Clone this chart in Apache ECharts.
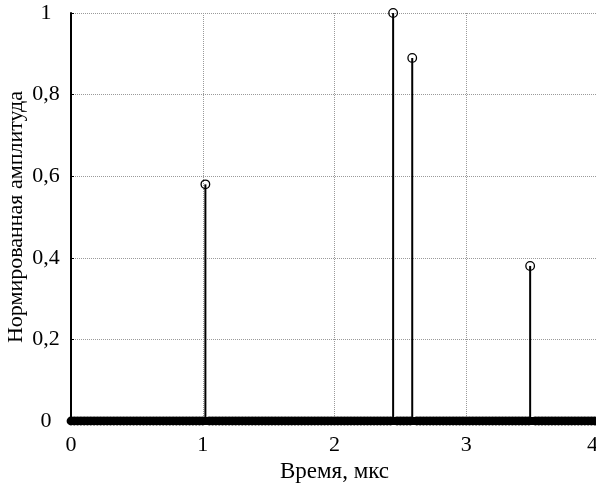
<!DOCTYPE html>
<html>
<head>
<meta charset="utf-8">
<script src="https://cdn.jsdelivr.net/npm/echarts@6/dist/echarts.min.js"></script>
<style>
  html, body { margin: 0; padding: 0; background: #fff; }
  #chart { width: 596px; height: 486px; }
</style>
</head>
<body>
<div id="chart"></div>
<script>
// Non-zero samples of the normalised amplitude (time in µs)
const peakTimes = [1.02, 2.445, 2.59, 3.485];
const peakValues = [0.58, 1.0, 0.89, 0.38];

// Sample instants where the amplitude is zero
const zeroTimes = [
  0, 0.025, 0.05, 0.075, 0.1, 0.125, 0.15, 0.175,
  0.2, 0.225, 0.25, 0.275, 0.3, 0.325, 0.35, 0.375,
  0.4, 0.425, 0.45, 0.475, 0.5, 0.525, 0.55, 0.575,
  0.6, 0.625, 0.65, 0.675, 0.7, 0.725, 0.75, 0.775,
  0.8, 0.825, 0.85, 0.875, 0.9, 0.925, 0.95, 0.975,
  1, 1.05, 1.075, 1.1, 1.125, 1.15, 1.175,
  1.2, 1.225, 1.25, 1.275, 1.3, 1.325, 1.35, 1.375,
  1.4, 1.425, 1.45, 1.475, 1.5, 1.525, 1.55, 1.575,
  1.6, 1.625, 1.65, 1.675, 1.7, 1.725, 1.75, 1.775,
  1.8, 1.825, 1.85, 1.875, 1.9, 1.925, 1.95, 1.975,
  2, 2.025, 2.05, 2.075, 2.1, 2.125, 2.15, 2.175,
  2.2, 2.225, 2.25, 2.275, 2.3, 2.325, 2.35, 2.375,
  2.4, 2.425, 2.475, 2.5, 2.525, 2.55, 2.575,
  2.625, 2.65, 2.675, 2.7, 2.725, 2.75, 2.775,
  2.8, 2.825, 2.85, 2.875, 2.9, 2.925, 2.95, 2.975,
  3, 3.025, 3.05, 3.075, 3.1, 3.125, 3.15, 3.175,
  3.2, 3.225, 3.25, 3.275, 3.3, 3.325, 3.35, 3.375,
  3.4, 3.425, 3.45, 3.475, 3.525, 3.55, 3.575,
  3.6, 3.625, 3.65, 3.675, 3.7, 3.725, 3.75, 3.775,
  3.8, 3.825, 3.85, 3.875, 3.9, 3.925, 3.95, 3.975,
  4
];

const xTicks = [0, 1, 2, 3, 4];
const yTickLabels = ['0', '0,2', '0,4', '0,6', '0,8', '1'];

const FONT = '"Liberation Serif", "DejaVu Serif", serif';

// Stem: vertical line from the baseline up to the sample, with a hollow circle on top
function makeStemRenderer(radius, ringWidth) {
  return function (params, api) {
    const x = api.value(0);
    const y = api.value(1);
    const top = api.coord([x, y]);
    const base = api.coord([x, 0]);
    return {
      type: 'group',
      children: [
        {
          type: 'line',
          shape: { x1: base[0], y1: base[1], x2: top[0], y2: top[1] },
          style: { stroke: '#000', lineWidth: 2 }
        },
        {
          type: 'circle',
          shape: { cx: top[0], cy: top[1], r: radius },
          style: { fill: null, stroke: '#000', lineWidth: ringWidth }
        }
      ]
    };
  };
}

const chart = echarts.init(document.getElementById('chart'), null, { renderer: 'canvas' });
chart.setOption({
  backgroundColor: '#fff',
  animation: false,
  grid: { left: 71, right: -2, top: 13, bottom: 65, containLabel: false, outerBoundsMode: 'none' },
  xAxis: {
    type: 'value',
    min: 0, max: 4, interval: 1,
    name: 'Время, мкс',
    nameLocation: 'middle',
    nameGap: 39,
    nameMoveOverlap: false,
    nameTextStyle: { fontFamily: FONT, fontSize: 23, color: '#000' },
    axisLine: { show: true, lineStyle: { color: '#000', width: 2 } },
    axisTick: { show: true, inside: true, length: 3, lineStyle: { color: '#000' } },
    axisLabel: {
      margin: 13,
      alignMaxLabel: 'right',
      fontFamily: FONT, fontSize: 22, color: '#000',
      formatter: v => String(xTicks[xTicks.indexOf(v)])
    },
    splitLine: { show: true, lineStyle: { color: '#9a9a9a', type: [1, 1], width: 1 } }
  },
  yAxis: {
    type: 'value',
    min: 0, max: 1, interval: 0.2,
    name: 'Нормированная амплитуда',
    nameLocation: 'middle',
    nameGap: 44,
    nameMoveOverlap: false,
    nameRotate: 90,
    nameTextStyle: { fontFamily: FONT, fontSize: 22, color: '#000' },
    axisLine: { show: true, lineStyle: { color: '#000', width: 2 } },
    axisTick: { show: true, inside: true, length: 3, lineStyle: { color: '#000' } },
    axisLabel: {
      margin: 25,
      align: 'center',
      fontFamily: FONT, fontSize: 22, color: '#000',
      formatter: v => yTickLabels[Math.round(v / 0.2)]
    },
    splitLine: { show: true, lineStyle: { color: '#9a9a9a', type: [1, 1], width: 1 } }
  },
  series: [
    {
      // zero-level samples: their rings overlap along the baseline
      type: 'custom',
      clip: false,
      renderItem: makeStemRenderer(2.6, 3.6),
      data: zeroTimes.map(t => [t, 0]),
      z: 5
    },
    {
      // heavy stem baseline through the zero samples
      type: 'line',
      data: [[zeroTimes[0], 0], [zeroTimes[zeroTimes.length - 1], 0]],
      showSymbol: false,
      symbol: 'none',
      silent: true,
      lineStyle: { color: '#000', width: 8 },
      z: 5
    },
    {
      type: 'custom',
      clip: false,
      renderItem: makeStemRenderer(4.3, 1.3),
      data: peakTimes.map((t, i) => [t, peakValues[i]]),
      z: 6
    }
  ]
});
</script>
</body>
</html>
